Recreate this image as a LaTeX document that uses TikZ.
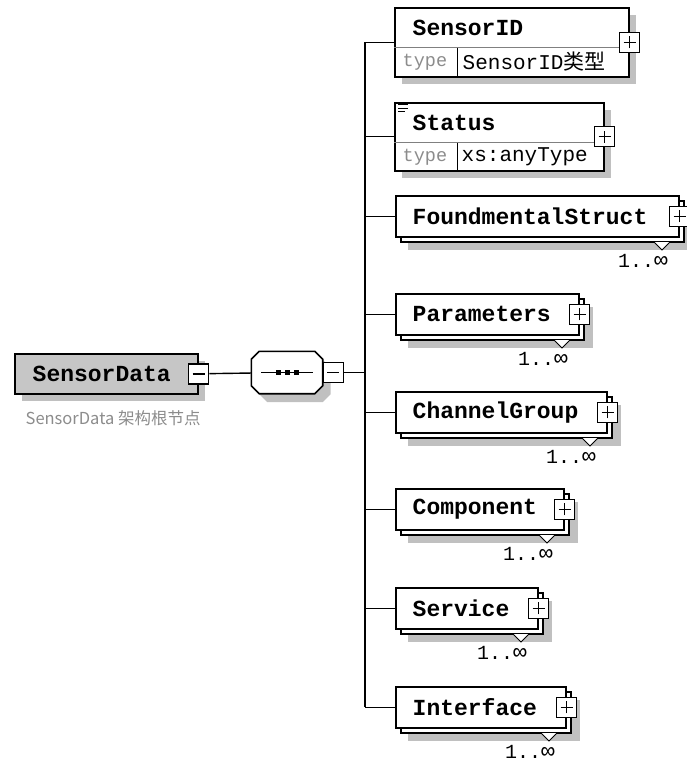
\documentclass[tikz,border=0pt]{standalone}
\usepackage{fontspec}
\newfontfamily\monofont{Liberation Mono}
\newfontfamily\cjk{Noto Sans CJK SC}
\definecolor{dropgray}{HTML}{C0C0C0}
\definecolor{hint}{HTML}{8C8C8C}

\tikzset{
  elem/.style={draw,rectangle,line width=1.6pt,fill=white,inner sep=0pt,anchor=north west},
  nametext/.style={inner sep=0pt,anchor=west,font=\monofont\bfseries\fontsize{23}{23}\selectfont},
  typetxt/.style={inner sep=0pt,anchor=west,font=\monofont\fontsize{21}{21}\selectfont},
  typekey/.style={inner sep=0pt,anchor=west,text=hint,font=\monofont\fontsize{18.5}{18.5}\selectfont},
  count/.style={inner sep=0pt,font=\monofont\fontsize{20}{20}\selectfont},
  minusbox/.style={draw,rectangle,fill=white,line width=1.4pt,minimum size=20pt,inner sep=0pt,
    path picture={\draw[line width=1.4pt] ([xshift=-6pt]path picture bounding box.center) -- ([xshift=6pt]path picture bounding box.center);}},
  plusbox/.style={draw,rectangle,fill=white,line width=1.4pt,minimum size=20pt,inner sep=0pt,
    path picture={\draw[line width=1.4pt] ([xshift=-6pt]path picture bounding box.center) -- ([xshift=6pt]path picture bounding box.center)
      ([yshift=-6pt]path picture bounding box.center) -- ([yshift=6pt]path picture bounding box.center);}},
  seqframe/.style={minimum width=70pt,minimum height=41pt,inner sep=0pt},
  octagon/.style={insert path={
    ([xshift=8pt]#1.north west) -- ([xshift=-8pt]#1.north east) -- ([yshift=-8pt]#1.north east)
    -- ([yshift=8pt]#1.south east) -- ([xshift=-8pt]#1.south east) -- ([xshift=8pt]#1.south west)
    -- ([yshift=8pt]#1.south west) -- ([yshift=-8pt]#1.north west) -- cycle}}
}
\newcommand\manyocc{1..{\fontsize{23}{20}\selectfont ∞}}

\begin{document}
\begin{tikzpicture}[x=1pt,y=-1pt,line width=1.4pt]
\useasboundingbox (0,0) rectangle (686,762);

% root element
\fill[dropgray] (22,361) rectangle (205,401);
\node[elem,fill=gray!45,minimum width=183pt,minimum height=40pt] (sd) at (14,353) {};
\node[nametext] (sd-txt) at ([xshift=18pt]sd.west) {SensorData};
\node[minusbox] (sd-m) at (sd.east) {};
\node[anchor=west,inner sep=0pt,text=hint,font=\cjk\fontsize{16.5}{16.5}\selectfont] (sd-note) at (25,418) {SensorData 架构根节点};

% sequence
\node[seqframe] (seq-sh) at (295,381) {};
\node[seqframe] (seq) at (287,372.5) {};
\fill[dropgray] [octagon=seq-sh];
\draw[fill=white,line width=1.6pt] [octagon=seq];
\draw ([xshift=10pt]seq.west) -- ([xshift=-10pt]seq.east);
\foreach \dx in {-9,0,9}
  \fill ([xshift=\dx pt]seq.center) +(-2.5,-2.5) rectangle +(2.5,2.5);
\node[minusbox,anchor=west] (seq-m) at (seq.east) {};
\draw (sd-m) -- (seq);
\coordinate (bus) at (365,372.5);
\draw (seq-m) -- (bus);

% SensorID
\fill[dropgray] (402,15) rectangle (636,84);
\node[elem,minimum width=234pt,minimum height=69pt] (sid) at (394,7) {};
\draw[line width=1pt,gray] ([yshift=-41pt]sid.north west) -- ([yshift=-41pt]sid.north east);
\draw[line width=1pt] (457,48) -- (457,76);
\node[nametext] (sid-txt) at (412,28) {SensorID};
\node[typekey] (sid-key) at (402,62) {type};
\node[typetxt] (sid-type) at (462,62) {SensorID{\cjk 类型}};
\node[plusbox] (sid-p) at (sid.east) {};

% Status
\fill[dropgray] (402,110) rectangle (611,178);
\node[elem,minimum width=209pt,minimum height=68pt] (st) at (394,102) {};
\draw[line width=1pt,gray] ([yshift=-41pt]st.north west) -- ([yshift=-41pt]st.north east);
\draw[line width=1pt] (457,143) -- (457,170);
\draw[line width=1pt] (398,105) -- (408,105) (398,108.5) -- (408,108.5) (398,112) -- (405,112);
\node[nametext] (st-txt) at (412,123) {Status};
\node[typekey] (st-key) at (402,157) {type};
\node[typetxt] (st-type) at (461,157) {xs:anyType};
\node[plusbox] (st-p) at (st.east) {};

% repeated child elements
\foreach \n/\txt/\w/\y in {fs/FoundmentalStruct/283/195, par/Parameters/183/293, cg/ChannelGroup/211/391,
    comp/Component/168/488, serv/Service/142/587, intf/Interface/170/686}{
  \fill[dropgray] (408,\y+14) rectangle (395+\w+15,\y+55);
  \draw[fill=white,line width=1.6pt] (401,\y+6) rectangle (395+\w+6,\y+47);
  \node[elem,minimum width=\w pt,minimum height=41pt] (\n) at (395,\y) {};
  \node[nametext] (\n-txt) at ([xshift=17pt]\n.west) {\txt};
  \node[plusbox] (\n-p) at (\n.east) {};
  \draw[fill=white,line width=1pt] (395+\w-24,\y+47) -- (395+\w-16,\y+55) -- (395+\w-8,\y+47);
  \node[count] (\n-c) at (395+\w-35,\y+66) {\manyocc};
  \draw (bus |- \n.west) -- (\n.west);
}

% bus to the children
\draw (bus |- sid.west) -- (bus |- intf.west);
\draw (bus |- sid.west) -- (sid.west);
\draw (bus |- st.west) -- (st.west);
\end{tikzpicture}
\end{document}
